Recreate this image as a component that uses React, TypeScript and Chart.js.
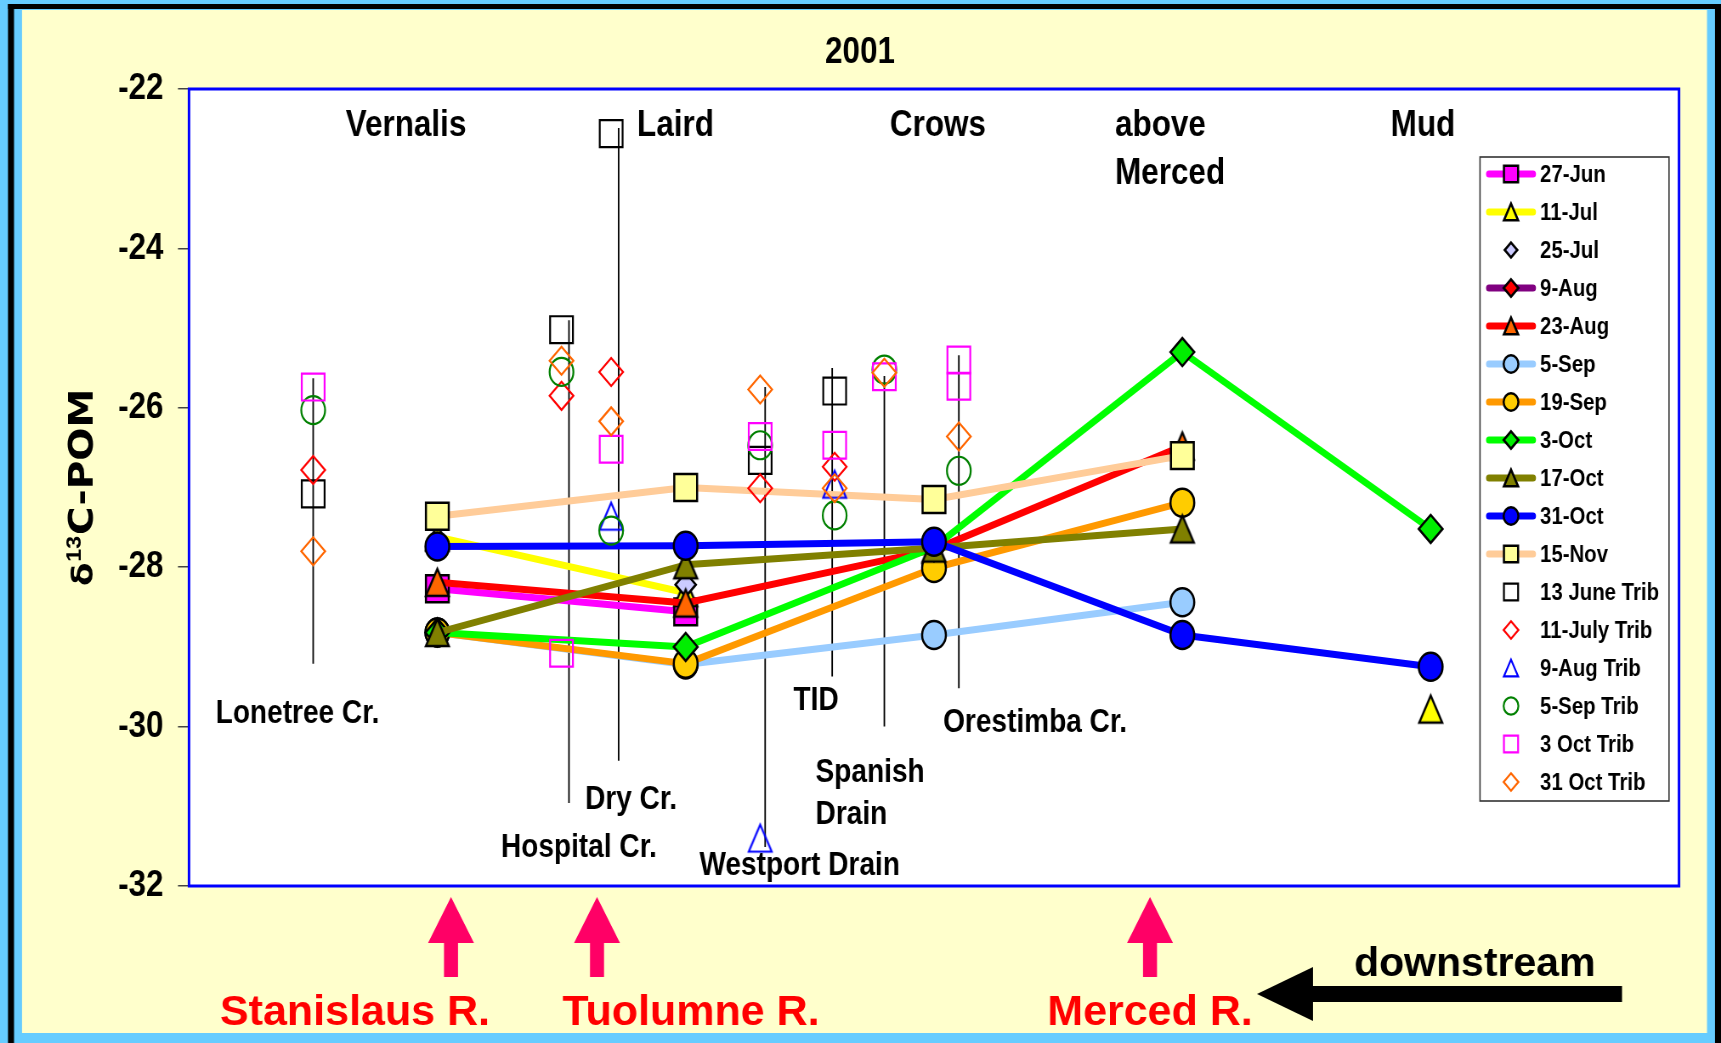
import React, { useEffect, useRef } from 'react';
import { Chart, registerables } from 'chart.js';

Chart.register(...registerables);

// ---------------- data ----------------
const STATIONS = ['Vernalis', 'Laird', 'Crows', 'above Merced', 'Mud'];
const STATION_X = [1, 2, 3, 4, 5];

const JUN27 = [-28.27, -28.56, null, null, null];
const JUL11 = [-27.62, -28.32, null, null, -29.78];
const JUL25 = [null, -28.22, null, null, null];
const AUG09 = [null, null, null, null, null];
const AUG23 = [-28.19, -28.45, -27.78, -26.48, null];
const SEP05 = [-28.82, -29.22, -28.85, -28.44, null];
const SEP19 = [-28.82, -29.21, -28.01, -27.19, null];
const OCT03 = [-28.82, -29.0, -27.75, -25.3, -27.52];
const OCT17 = [-28.82, -27.97, -27.76, -27.52, null];
const OCT31 = [-27.74, -27.73, -27.68, -28.85, -29.25];
const NOV15 = [-27.36, -27.0, -27.15, -26.6, null];

const TRIB_SITES = ['Lonetree Cr.', 'Hospital Cr.', 'Dry Cr.', 'Westport Drain', 'TID', 'Spanish Drain', 'Orestimba Cr.', 'Orestimba Cr. (2)'];
const TRIB_X = [0.5, 1.5, 1.7, 2.3, 2.6, 2.8, 3.1, 3.1];
const TRIB_JUN13 = [-27.08, -25.02, -22.56, -26.66, -25.79, null, null, null];
const TRIB_JUL11 = [-26.78, -25.85, -25.55, -27.01, -26.74, null, null, null];
const TRIB_AUG09 = [null, null, -27.36, -31.4, -26.96, null, null, null];
const TRIB_SEP05 = [-26.03, -25.55, -27.54, -26.47, -27.35, -25.52, -26.79, null];
const TRIB_OCT03 = [-25.74, -29.08, -26.52, -26.36, -26.47, -25.61, -25.4, -25.73];
const TRIB_OCT31 = [-27.8, -25.41, -26.17, -25.77, -27.01, -25.56, -26.36, null];

// drop lines joining tributary symbols to their names
const DROP_X = [0.5, 1.53, 1.73, 2.32, 2.59, 2.8, 3.1];
const DROP_TOP = [-25.63, -24.9, -22.49, -25.74, -25.5, -25.6, -25.34];
const DROP_BOTTOM = [-29.21, -30.96, -30.43, -31.51, -29.37, -30.0, -29.52];

const Y_TICKS = [-22, -24, -26, -28, -30, -32];

// ---------------- layout / styling ----------------
const W = 2025; // internal canvas width (displayed compressed to 1721)
const H = 1043;
const K = 1721 / W;
const FONT = "'Liberation Sans', Arial, Helvetica, sans-serif";
const PLOT_LEFT = 189 / K;
const PLOT_RIGHT = 1679 / K;
const PLOT_TOP = 89;
const PLOT_BOTTOM = 886;

const SERIES_STYLE = [
  { label: '27-Jun', data: JUN27, line: '#FF00FF', fill: '#FF00FF', style: 'rect', r: 19 },
  { label: '11-Jul', data: JUL11, line: '#FFFF00', fill: '#FFFF00', style: 'triangle', r: 18 },
  { label: '25-Jul', data: JUL25, line: null, fill: '#CCCCFF', style: 'rectRot', r: 12 },
  { label: '9-Aug', data: AUG09, line: '#800080', fill: '#FF0000', style: 'rectRot', r: 14 },
  { label: '23-Aug', data: AUG23, line: '#FF0000', fill: '#FF6600', style: 'triangle', r: 18 },
  { label: '5-Sep', data: SEP05, line: '#99CCFF', fill: '#99CCFF', style: 'circle', r: 14 },
  { label: '19-Sep', data: SEP19, line: '#FF9900', fill: '#FFCC00', style: 'circle', r: 14 },
  { label: '3-Oct', data: OCT03, line: '#00FF00', fill: '#00EE00', style: 'rectRot', r: 14 },
  { label: '17-Oct', data: OCT17, line: '#808000', fill: '#808000', style: 'triangle', r: 18 },
  { label: '31-Oct', data: OCT31, line: '#0000FF', fill: '#0000FF', style: 'circle', r: 14 },
  { label: '15-Nov', data: NOV15, line: '#FFCC99', fill: '#FFFF99', style: 'rect', r: 19 },
];

const TRIB_STYLE = [
  { label: '13 June Trib', data: TRIB_JUN13, color: '#000000', style: 'rect', r: 19 },
  { label: '11-July Trib', data: TRIB_JUL11, color: '#FF0000', style: 'rectRot', r: 14 },
  { label: '9-Aug Trib', data: TRIB_AUG09, color: '#0000FF', style: 'triangle', r: 18 },
  { label: '5-Sep Trib', data: TRIB_SEP05, color: '#008000', style: 'circle', r: 14 },
  { label: '3 Oct Trib', data: TRIB_OCT03, color: '#FF00FF', style: 'rect', r: 19 },
  { label: '31 Oct Trib', data: TRIB_OCT31, color: '#FF6600', style: 'rectRot', r: 14 },
];

const SITE_LABELS = [
  { text: 'Vernalis', x: 0.874, y: -22.59, size: 37, align: 'center' },
  { text: 'Laird', x: 1.959, y: -22.59, size: 37, align: 'center' },
  { text: 'Crows', x: 3.016, y: -22.59, size: 37, align: 'center' },
  { text: 'above', x: 3.729, y: -22.59, size: 37, align: 'left' },
  { text: 'Merced', x: 3.729, y: -23.19, size: 37, align: 'left' },
  { text: 'Mud', x: 4.969, y: -22.59, size: 37, align: 'center' },
  { text: 'Lonetree Cr.', x: 0.437, y: -29.955, size: 33, align: 'center' },
  { text: 'Dry Cr.', x: 1.78, y: -31.03, size: 33, align: 'center' },
  { text: 'Hospital Cr.', x: 1.57, y: -31.64, size: 33, align: 'center' },
  { text: 'Westport Drain', x: 2.459, y: -31.86, size: 33, align: 'center' },
  { text: 'TID', x: 2.525, y: -29.79, size: 33, align: 'center' },
  { text: 'Spanish', x: 2.523, y: -30.7, size: 33, align: 'left' },
  { text: 'Drain', x: 2.523, y: -31.22, size: 33, align: 'left' },
  { text: 'Orestimba Cr.', x: 3.407, y: -30.07, size: 33, align: 'center' },
];

// river inflow arrows and names (page coordinates)
const RIVERS = [
  { text: 'Stanislaus R.', arrowX: 451, textX: 355 },
  { text: 'Tuolumne R.', arrowX: 597, textX: 691 },
  { text: 'Merced R.', arrowX: 1150, textX: 1150 },
];

function drawMarker(ctx: CanvasRenderingContext2D, style: string, x: number, y: number, r: number,
  fill: string | null, stroke: string | null, lw: number) {
  ctx.beginPath();
  if (style === 'circle') {
    ctx.arc(x, y, r, 0, Math.PI * 2);
  } else if (style === 'rect') {
    const s = r * Math.SQRT1_2;
    ctx.rect(x - s, y - s, 2 * s, 2 * s);
  } else if (style === 'triangle') {
    const h = 0.75 * r;
    ctx.moveTo(x, y - h);
    ctx.lineTo(x + h, y + h);
    ctx.lineTo(x - h, y + h);
    ctx.closePath();
  } else {
    ctx.moveTo(x, y - r);
    ctx.lineTo(x + r, y);
    ctx.lineTo(x, y + r);
    ctx.lineTo(x - r, y);
    ctx.closePath();
  }
  if (fill) { ctx.fillStyle = fill; ctx.fill(); }
  if (stroke && lw > 0) {
    ctx.lineWidth = lw;
    ctx.lineJoin = 'miter';
    ctx.strokeStyle = stroke;
    ctx.stroke();
  }
}

// box-centred triangle marker (as in the source chart) as an image point style
function triangleImage(r: number, fill: string | null, stroke: string, lw: number) {
  const size = Math.ceil(1.5 * r + lw * 3 + 4);
  const c = document.createElement('canvas');
  c.width = size;
  c.height = size;
  const cx = c.getContext('2d');
  if (cx) drawMarker(cx, 'triangle', size / 2, size / 2, r, fill, stroke, lw);
  return c;
}

const decorPlugin = {
  id: 'decor',
  beforeDraw(chart: any) {
    const ctx: CanvasRenderingContext2D = chart.ctx;
    ctx.save();
    ctx.scale(1 / K, 1); // page coordinates
    ctx.fillStyle = '#66CCFF';
    ctx.fillRect(0, 0, 1721, 1043);
    ctx.fillStyle = '#000000';
    ctx.fillRect(8, 4, 1713, 5);
    ctx.fillRect(8, 4, 6, 1039);
    ctx.fillRect(1715, 4, 6, 1039);
    ctx.fillStyle = '#FFFFCC';
    ctx.fillRect(22, 10, 1685, 1023);
    ctx.restore();
    const a = chart.chartArea;
    ctx.save();
    ctx.fillStyle = '#FFFFFF';
    ctx.fillRect(a.left, a.top, a.right - a.left, a.bottom - a.top);
    ctx.restore();
  },
  afterDraw(chart: any) {
    const ctx: CanvasRenderingContext2D = chart.ctx;
    const xs = chart.scales.x;
    const ys = chart.scales.y;
    const a = chart.chartArea;

    // site labels inside plot
    ctx.save();
    ctx.fillStyle = '#000';
    ctx.textBaseline = 'alphabetic';
    SITE_LABELS.forEach((l) => {
      ctx.font = `bold ${l.size}px ${FONT}`;
      ctx.textAlign = l.align as CanvasTextAlign;
      ctx.fillText(l.text, xs.getPixelForValue(l.x), ys.getPixelForValue(l.y));
    });
    ctx.restore();

    // plot border
    ctx.save();
    ctx.strokeStyle = '#0000FF';
    ctx.lineWidth = 3;
    ctx.strokeRect(a.left, a.top, a.right - a.left, a.bottom - a.top);
    ctx.restore();

    // legend
    ctx.save();
    const lx1 = 1480 / K, lx2 = 1669 / K;
    ctx.fillStyle = '#FFFFFF';
    ctx.fillRect(lx1, 157, lx2 - lx1, 644);
    ctx.strokeStyle = '#333333';
    ctx.lineWidth = 1.6;
    ctx.strokeRect(lx1, 157, lx2 - lx1, 644);
    const mx = 1511 / K;
    chart.data.datasets.forEach((ds: any) => {
      if (ds.legendIndex === undefined) return;
      const y = 174 + 38 * ds.legendIndex;
      if (ds.showLine) {
        ctx.beginPath();
        ctx.lineCap = 'round';
        ctx.strokeStyle = ds.borderColor;
        ctx.lineWidth = 7;
        ctx.moveTo(1489 / K, y);
        ctx.lineTo(1533 / K, y);
        ctx.stroke();
      }
      drawMarker(ctx, ds.markerStyle, mx, y, ds.markerR * 0.62, ds.markerFill, ds.markerStroke, ds.pointBorderWidth);
      ctx.fillStyle = '#000';
      ctx.font = `bold 24px ${FONT}`;
      ctx.textAlign = 'left';
      ctx.textBaseline = 'middle';
      ctx.fillText(ds.label, 1540 / K, y + 1);
    });
    ctx.restore();

    // title
    ctx.save();
    ctx.fillStyle = '#000';
    ctx.font = `bold 37px ${FONT}`;
    ctx.textAlign = 'center';
    ctx.textBaseline = 'alphabetic';
    ctx.fillText('2001', 860 / K, 63);
    ctx.restore();

    // y axis title
    ctx.save();
    ctx.translate(93 / K, 586);
    ctx.rotate(-Math.PI / 2);
    ctx.fillStyle = '#000';
    ctx.textAlign = 'left';
    ctx.textBaseline = 'alphabetic';
    ctx.font = `bold 34px 'DejaVu Sans', sans-serif`;
    ctx.fillText('\u03B4', 0, 0);
    let off = ctx.measureText('\u03B4').width + 1;
    ctx.font = `bold 23px ${FONT}`;
    ctx.fillText('13', off, -14);
    off += ctx.measureText('13').width + 1;
    ctx.font = `bold 39px 'DejaVu Sans', sans-serif`;
    ctx.fillText('C-POM', off, 0);
    ctx.restore();

    // page annotations (uncompressed, page coordinates)
    ctx.save();
    ctx.scale(1 / K, 1);
    RIVERS.forEach((rv) => {
      const cx = rv.arrowX;
      ctx.fillStyle = '#FF0066';
      ctx.beginPath();
      ctx.moveTo(cx, 897);
      ctx.lineTo(cx + 23, 943);
      ctx.lineTo(cx + 7, 943);
      ctx.lineTo(cx + 7, 977);
      ctx.lineTo(cx - 7, 977);
      ctx.lineTo(cx - 7, 943);
      ctx.lineTo(cx - 23, 943);
      ctx.closePath();
      ctx.fill();
      ctx.fillStyle = '#FF0000';
      ctx.font = `bold 43px ${FONT}`;
      ctx.textAlign = 'center';
      ctx.textBaseline = 'alphabetic';
      ctx.fillText(rv.text, rv.textX, 1025);
    });
    ctx.fillStyle = '#000';
    ctx.fillRect(1310, 986, 312, 16);
    ctx.beginPath();
    ctx.moveTo(1257, 994);
    ctx.lineTo(1313, 967);
    ctx.lineTo(1313, 1021);
    ctx.closePath();
    ctx.fill();
    ctx.font = `bold 41px ${FONT}`;
    ctx.textAlign = 'left';
    ctx.fillText('downstream', 1354, 976);
    ctx.restore();
  },
};

function buildDatasets() {
  const sets: any[] = [];
  DROP_X.forEach((x, i) => {
    sets.push({
      label: `drop ${TRIB_SITES[i]}`,
      data: [{ x, y: DROP_TOP[i] }, { x, y: DROP_BOTTOM[i] }],
      borderColor: '#000000',
      borderWidth: 1.8,
      pointRadius: 0,
      showLine: true,
      fill: false,
    });
  });
  SERIES_STYLE.forEach((s, i) => {
    const ps = s.style === 'triangle' ? triangleImage(s.r, s.fill, '#000000', 2.5) : s.style;
    sets.push({
      label: s.label,
      legendIndex: i,
      markerStyle: s.style,
      markerR: s.r,
      markerFill: s.fill,
      markerStroke: '#000000',
      data: STATION_X.map((x, j) => ({ x, y: s.data[j] })),
      showLine: !!s.line,
      borderColor: s.line || '#000000',
      borderWidth: 7,
      borderCapStyle: 'round',
      borderJoinStyle: 'round',
      pointStyle: ps,
      pointRadius: s.r,
      pointBackgroundColor: s.fill,
      pointBorderColor: '#000000',
      pointBorderWidth: 2.5,
      fill: false,
    });
  });
  TRIB_STYLE.forEach((s, i) => {
    const ps = s.style === 'triangle' ? triangleImage(s.r, null, s.color, 2.2) : s.style;
    sets.push({
      label: s.label,
      legendIndex: SERIES_STYLE.length + i,
      markerStyle: s.style,
      markerR: s.r,
      markerFill: null,
      markerStroke: s.color,
      data: TRIB_X.map((x, j) => ({ x, y: s.data[j] })),
      showLine: false,
      borderColor: s.color,
      borderWidth: 0,
      pointStyle: ps,
      pointRadius: s.r,
      pointBackgroundColor: 'rgba(0,0,0,0)',
      pointBorderColor: s.color,
      pointBorderWidth: 2.2,
      fill: false,
    });
  });
  sets.forEach((d, i) => { d.order = -i; });
  return sets;
}

export default function App() {
  const ref = useRef<HTMLCanvasElement>(null);
  useEffect(() => {
    document.body.style.margin = '0';
    const canvas = ref.current;
    if (!canvas) return;
    const chart = new Chart(canvas, {
      type: 'line',
      data: { labels: STATIONS, datasets: buildDatasets() },
      options: {
        responsive: false,
        animation: false,
        devicePixelRatio: 1,
        events: [],
        layout: { padding: { left: 0, right: W - PLOT_RIGHT, top: PLOT_TOP, bottom: H - PLOT_BOTTOM } },
        plugins: { legend: { display: false }, title: { display: false }, tooltip: { enabled: false } },
        elements: { line: { tension: 0 } },
        scales: {
          x: { type: 'linear', min: 0, max: 6, display: false },
          y: {
            type: 'linear',
            min: -32,
            max: -22,
            afterFit: (s: any) => { s.width = PLOT_LEFT; },
            afterBuildTicks: (s: any) => { s.ticks = Y_TICKS.map((v) => ({ value: v })); },
            ticks: { font: { size: 37, weight: 'bold', family: FONT }, color: '#000000', padding: 17 },
            grid: { drawOnChartArea: false, drawTicks: true, tickLength: 13, color: '#444444', lineWidth: 1.5 },
            border: { display: false },
          },
        },
      } as any,
      plugins: [decorPlugin],
    });
    return () => chart.destroy();
  }, []);
  return (
    <canvas
      ref={ref}
      width={W}
      height={H}
      style={{ display: 'block', width: '1721px', height: '1043px' }}
    />
  );
}
